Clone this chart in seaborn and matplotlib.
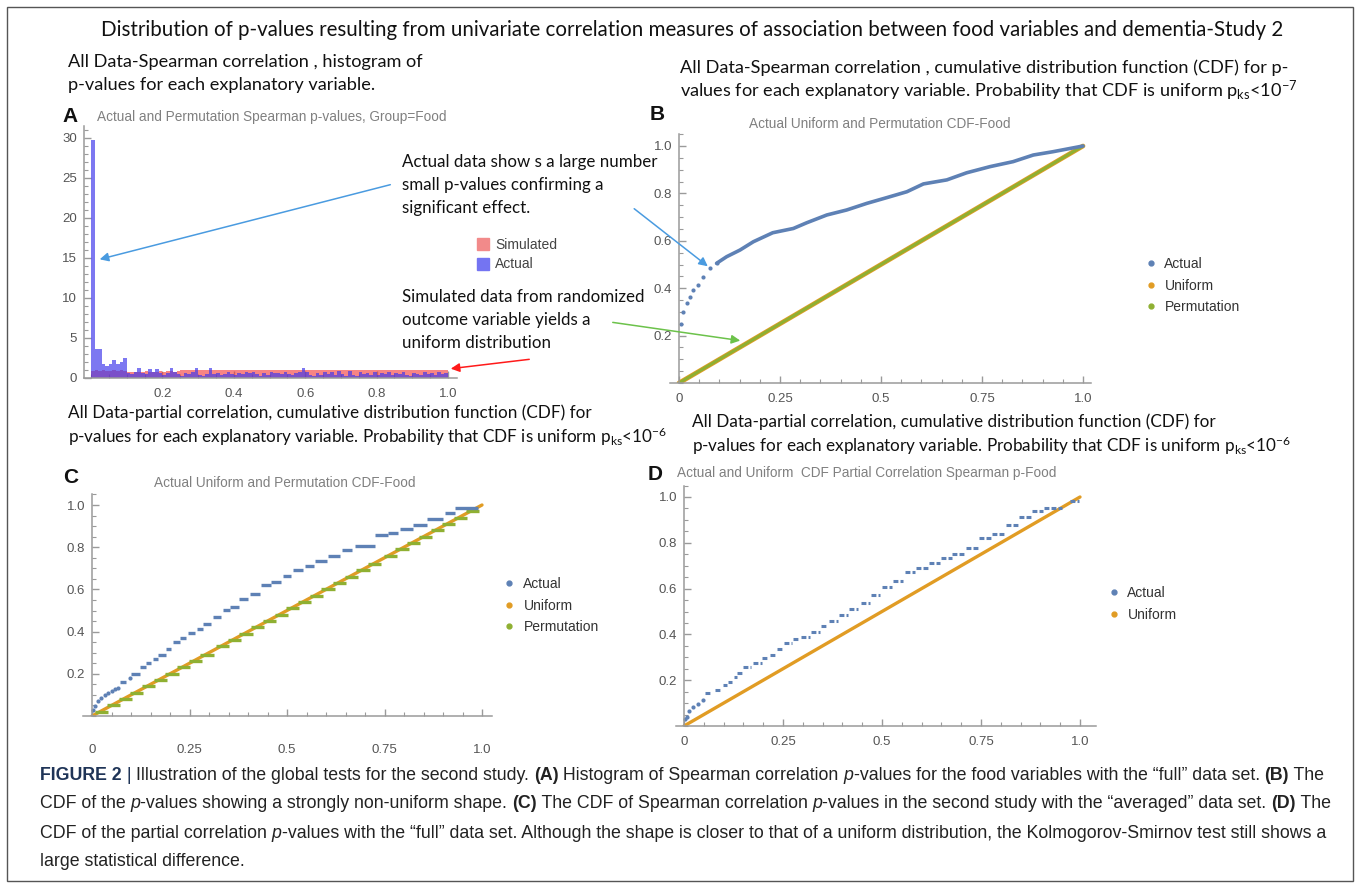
import numpy as np
import pandas as pd
import matplotlib
matplotlib.use('Agg')
import matplotlib.pyplot as plt
from matplotlib.lines import Line2D
from matplotlib.patches import FancyArrowPatch, Rectangle
from matplotlib.ticker import MultipleLocator, FixedLocator
import seaborn as sns

sns.set_style('ticks')
plt.rcParams['font.family'] = ['Liberation Sans', 'DejaVu Sans']
plt.rcParams['mathtext.fontset'] = 'custom'
plt.rcParams['mathtext.rm'] = 'Lato'
plt.rcParams['mathtext.it'] = 'Lato:italic'

# ---- data ----
# A: histogram densities, 100 bins of width 0.01
bin_edges = list(np.linspace(0, 1, 101))
actual_density = [29.7, 3.6, 3.6, 1.7, 1.5, 1.8, 2.3, 1.8, 2.0, 2.5,
                  0.6, 0.5, 0.7, 1.3, 0.6, 0.5, 1.1, 0.7, 1.1, 0.6,
                  0.4, 0.6, 1.3, 0.7, 0.5, 0.3, 0.6, 0.5, 0.7, 1.3,
                  0.4, 0.3, 0.5, 1.3, 0.5, 0.6, 0.4, 0.5, 0.7, 0.5,
                  0.4, 0.6, 0.5, 0.7, 0.6, 0.7, 0.5, 0.3, 0.6, 0.4,
                  0.7, 0.6, 0.6, 0.5, 0.7, 0.5, 0.4, 0.6, 0.7, 1.3,
                  0.8, 0.4, 0.3, 0.6, 0.4, 0.7, 0.5, 0.8, 0.4, 0.9,
                  0.5, 0.3, 0.9, 0.4, 0.3, 0.8, 0.5, 0.6, 0.4, 0.7,
                  0.4, 0.6, 0.5, 0.7, 0.4, 0.6, 0.5, 0.8, 0.4, 0.3,
                  0.6, 0.5, 0.4, 0.7, 0.5, 0.6, 0.4, 0.7, 0.5, 0.6]
simulated_density = [0.9, 1.0, 0.9, 1.0, 0.9, 0.9, 1.0, 0.9, 1.0, 0.9,
                     0.75, 0.8, 0.7, 0.8, 0.75, 0.85, 0.8, 0.8, 0.75, 0.9,
                     0.8, 0.85, 0.9, 0.8, 0.9, 0.95, 1.0, 0.95, 1.0, 1.05,
                     0.95, 1.0, 1.05, 0.95, 1.0, 0.95, 1.05, 1.0, 0.95, 1.05,
                     1.0, 0.95, 1.05, 1.0, 0.95, 1.05, 0.95, 1.0, 1.05, 0.95,
                     1.05, 1.0, 0.95, 1.05, 1.0, 0.95, 1.05, 0.95, 1.0, 1.05,
                     0.95, 1.0, 1.05, 0.95, 1.05, 1.0, 0.95, 1.05, 1.0, 0.95,
                     1.05, 0.95, 1.0, 1.05, 0.95, 1.0, 1.05, 0.95, 1.05, 1.0,
                     0.95, 1.05, 1.0, 0.95, 1.05, 0.95, 1.0, 1.05, 0.95, 1.0,
                     1.05, 0.95, 1.0, 1.05, 0.95, 1.05, 1.0, 0.95, 1.05, 1.0]

# B: CDF of actual p-values (first isolated points, then the dense part)
b_dot_x = [0.005, 0.009, 0.019, 0.027, 0.035, 0.048, 0.060, 0.077, 0.093]
b_dot_y = [0.25, 0.30, 0.336, 0.364, 0.392, 0.413, 0.448, 0.484, 0.505]
b_cdf_x = [0.093, 0.118, 0.151, 0.184, 0.232, 0.283, 0.316, 0.366, 0.415,
           0.465, 0.514, 0.564, 0.605, 0.663, 0.712, 0.770, 0.827, 0.877,
           0.926, 1.0]
b_cdf_y = [0.505, 0.533, 0.561, 0.596, 0.634, 0.652, 0.676, 0.709, 0.730,
           0.758, 0.782, 0.807, 0.840, 0.857, 0.887, 0.913, 0.934, 0.962,
           0.976, 1.0]
uniform_x = [0.0, 1.0]
uniform_y = [0.0, 1.0]
perm_x = [0.0, 1.0]
perm_y = [0.0, 1.0]

# C: actual CDF, isolated points then steps (start, end, level)
c_dot_x = [0.0013, 0.0085, 0.0154, 0.024, 0.0325, 0.041, 0.050, 0.058, 0.067, 0.097]
c_dot_y = [0.027, 0.047, 0.071, 0.087, 0.100, 0.110, 0.119, 0.127, 0.135, 0.179]
c_step_lo = [0.071, 0.101, 0.122, 0.139, 0.156, 0.169, 0.190, 0.208, 0.225, 0.246,
             0.268, 0.285, 0.310, 0.336, 0.355, 0.378, 0.404, 0.434, 0.460, 0.490,
             0.515, 0.545, 0.572, 0.606, 0.640, 0.674, 0.726, 0.760, 0.790, 0.824,
             0.860, 0.905, 0.930]
c_step_hi = [0.088, 0.122, 0.139, 0.152, 0.169, 0.190, 0.203, 0.225, 0.242, 0.263,
             0.285, 0.306, 0.332, 0.353, 0.378, 0.400, 0.430, 0.460, 0.485, 0.511,
             0.541, 0.568, 0.602, 0.636, 0.666, 0.726, 0.760, 0.785, 0.824, 0.858,
             0.900, 0.930, 0.990]
c_step_y = [0.162, 0.198, 0.230, 0.251, 0.270, 0.290, 0.316, 0.352, 0.371, 0.392,
            0.413, 0.438, 0.467, 0.503, 0.517, 0.554, 0.579, 0.619, 0.633, 0.662,
            0.694, 0.712, 0.733, 0.757, 0.789, 0.806, 0.856, 0.869, 0.884, 0.907,
            0.935, 0.960, 0.987]
c_perm_y = [0.02, 0.05, 0.08, 0.11, 0.14, 0.17, 0.20, 0.23, 0.26, 0.29, 0.33,
            0.36, 0.39, 0.42, 0.45, 0.48, 0.51, 0.54, 0.57, 0.60, 0.63, 0.66,
            0.69, 0.72, 0.76, 0.79, 0.82, 0.85, 0.88, 0.91, 0.94, 0.97]

# D: partial correlation CDF
d_dot_x = [0.003, 0.007, 0.013, 0.023, 0.036, 0.047]
d_dot_y = [0.030, 0.039, 0.066, 0.083, 0.098, 0.112]
d_step_lo = [0.053, 0.078, 0.098, 0.110, 0.125, 0.135, 0.150, 0.175, 0.198, 0.216,
             0.236, 0.252, 0.274, 0.295, 0.320, 0.345, 0.366, 0.392, 0.417, 0.446,
             0.472, 0.500, 0.529, 0.558, 0.587, 0.619, 0.648, 0.678, 0.712, 0.745,
             0.779, 0.812, 0.846, 0.880, 0.909, 0.975]
d_step_hi = [0.070, 0.095, 0.108, 0.120, 0.133, 0.146, 0.170, 0.196, 0.213, 0.234,
             0.250, 0.272, 0.293, 0.318, 0.343, 0.364, 0.390, 0.415, 0.440, 0.470,
             0.495, 0.524, 0.554, 0.583, 0.617, 0.646, 0.676, 0.710, 0.743, 0.777,
             0.810, 0.844, 0.878, 0.907, 0.954, 0.998]
d_step_y = [0.142, 0.159, 0.177, 0.193, 0.212, 0.230, 0.256, 0.276, 0.297, 0.312,
            0.336, 0.362, 0.378, 0.387, 0.410, 0.436, 0.457, 0.486, 0.509, 0.536,
            0.572, 0.606, 0.632, 0.672, 0.688, 0.711, 0.733, 0.752, 0.776, 0.823,
            0.839, 0.879, 0.912, 0.940, 0.950, 0.984]

cdf_ticks = [0, 0.25, 0.5, 0.75, 1.0]
cdf_tick_labels = ['0', '0.25', '0.5', '0.75', '1.0']
prob_ticks = [0.2, 0.4, 0.6, 0.8, 1.0]
prob_tick_labels = ['0.2', '0.4', '0.6', '0.8', '1.0']
hist_xticks = [0.2, 0.4, 0.6, 0.8, 1.0]
hist_xtick_labels = ['0.2', '0.4', '0.6', '0.8', '1.0']
hist_yticks = [0, 5, 10, 15, 20, 25, 30]

BLUE = '#5E81B5'
ORANGE = '#E19C24'
GREEN = '#8FB032'
AX_GRAY = '#9a9a9a'
TXT_GRAY = '#808080'

W, H = 1360, 885
fig = plt.figure(figsize=(W / 100, H / 100), dpi=100)


def fx(px):
    return px / W


def fy(py):
    return 1 - py / H


def make_ax(px0, px1, py0, py_ref, yref, xlim, ylim):
    sx = px1 - px0
    sy = (py0 - py_ref) / yref
    left = px0 + xlim[0] * sx
    right = px0 + xlim[1] * sx
    bottom = py0 - ylim[0] * sy
    top = py0 - ylim[1] * sy
    ax = fig.add_axes([left / W, 1 - bottom / H, (right - left) / W, (bottom - top) / H])
    ax.set_xlim(*xlim)
    ax.set_ylim(*ylim)
    return ax


def mma_style(ax, origin=True):
    for s in ['top', 'right']:
        ax.spines[s].set_visible(False)
    for s in ['left', 'bottom']:
        ax.spines[s].set_color(AX_GRAY)
        ax.spines[s].set_linewidth(1.1)
    if origin:
        ax.spines['left'].set_position(('data', 0))
    ax.tick_params(which='both', direction='in', color=AX_GRAY, labelcolor='#555555',
                   labelsize=9.5)
    ax.tick_params(which='major', length=5, width=1)
    ax.tick_params(which='minor', length=3, width=0.8)
    ax.tick_params(axis='x', pad=7)
    ax.tick_params(axis='y', pad=5)
    ax.set_xlabel('')
    ax.set_ylabel('')


def cdf_axis(ax, xpad=7):
    ax.xaxis.set_major_locator(FixedLocator(cdf_ticks))
    ax.set_xticklabels(cdf_tick_labels)
    ax.xaxis.set_minor_locator(MultipleLocator(0.05))
    ax.yaxis.set_major_locator(FixedLocator(prob_ticks))
    ax.set_yticklabels(prob_tick_labels)
    ax.yaxis.set_minor_locator(MultipleLocator(0.05))
    ax.tick_params(axis='x', pad=xpad)


def cdf_legend(ax, labels, colors, x, y):
    handles = [Line2D([], [], ls='', marker='o', markersize=3.5, color=c) for c in colors]
    ax.legend(handles, labels, loc='upper left', bbox_to_anchor=(fx(x), fy(y)),
              bbox_transform=fig.transFigure, frameon=False, fontsize=10,
              handletextpad=0.6, labelspacing=0.55, handlelength=0.8, borderpad=0,
              labelcolor='#333333')


# ---- panel A ----
axA = make_ax(91, 448, 378, 138, 30, (-0.02, 1.025), (0, 31.5))
hist_df = pd.DataFrame({'p': np.array(bin_edges[:-1]) + 0.005,
                        'actual': actual_density,
                        'simulated': simulated_density})
sns.histplot(data=hist_df, x='p', weights='simulated', bins=bin_edges, ax=axA,
             color=(0.95, 0.2, 0.2), alpha=0.6, linewidth=0)
sns.histplot(data=hist_df, x='p', weights='actual', bins=bin_edges, ax=axA,
             color=(0.25, 0.22, 0.92), alpha=0.68, linewidth=0)
mma_style(axA, origin=False)
axA.set_xlim(-0.02, 1.025)
axA.set_ylim(0, 31.5)
axA.xaxis.set_major_locator(FixedLocator(hist_xticks))
axA.set_xticklabels(hist_xtick_labels)
axA.xaxis.set_minor_locator(MultipleLocator(0.05))
axA.yaxis.set_major_locator(FixedLocator(hist_yticks))
axA.yaxis.set_minor_locator(MultipleLocator(1))
hA = [Line2D([], [], ls='', marker='s', markersize=8, color='#f28a8a'),
      Line2D([], [], ls='', marker='s', markersize=8, color='#7474f2')]
axA.legend(hA, ['Simulated', 'Actual'], loc='upper left', bbox_to_anchor=(fx(470), fy(231)),
           bbox_transform=fig.transFigure, frameon=False, fontsize=10,
           handletextpad=0.5, labelspacing=0.4, handlelength=0.8, borderpad=0,
           labelcolor='#444444')

# ---- panel B ----
axB = make_ax(679, 1083, 383, 146, 1.0, (-0.022, 1.02), (0, 1.05))
sns.lineplot(x=uniform_x, y=uniform_y, ax=axB, color=ORANGE, linewidth=3.4)
sns.lineplot(x=perm_x, y=perm_y, ax=axB, color=GREEN, linewidth=2.2)
sns.lineplot(x=b_cdf_x, y=b_cdf_y, ax=axB, color=BLUE, linewidth=2.6)
sns.scatterplot(x=b_dot_x, y=b_dot_y, ax=axB, color=BLUE, s=9, linewidth=0)
mma_style(axB)
cdf_axis(axB)
cdf_legend(axB, ['Actual', 'Uniform', 'Permutation'], [BLUE, ORANGE, GREEN], 1138, 250)

# ---- panel C ----
axC = make_ax(92, 482, 716, 505, 1.0, (-0.023, 1.026), (0, 1.05))
sns.lineplot(x=uniform_x, y=uniform_y, ax=axC, color=ORANGE, linewidth=2.4)
axC.hlines(c_perm_y, np.array(c_perm_y) - 0.012, np.array(c_perm_y) + 0.022,
           color=GREEN, linewidth=2.4)
axC.hlines(c_step_y, c_step_lo, c_step_hi, color=BLUE, linewidth=2.4)
sns.scatterplot(x=c_dot_x, y=c_dot_y, ax=axC, color=BLUE, s=9, linewidth=0)
mma_style(axC)
cdf_axis(axC, xpad=20)
cdf_legend(axC, ['Actual', 'Uniform', 'Permutation'], [BLUE, ORANGE, GREEN], 497, 570)

# ---- panel D ----
axD = make_ax(684, 1080, 726, 497, 1.0, (-0.02, 1.04), (0, 1.05))
sns.lineplot(x=uniform_x, y=uniform_y, ax=axD, color=ORANGE, linewidth=2.4)
axD.hlines(d_step_y, d_step_lo, d_step_hi, color=BLUE, linewidth=2.2,
           linestyles=(0, (1.6, 0.7)))
sns.scatterplot(x=d_dot_x, y=d_dot_y, ax=axD, color=BLUE, s=9, linewidth=0)
mma_style(axD)
cdf_axis(axD)
cdf_legend(axD, ['Actual', 'Uniform'], [BLUE, ORANGE], 1101, 579)

# ---- texts ----
CAL = ['Lato', 'DejaVu Sans']
fig.text(fx(692), fy(30), 'Distribution of p-values resulting from univariate correlation measures '
         'of association between food variables and dementia-Study 2',
         ha='center', va='center', fontsize=14.8, family=CAL, color='#111111')
hdr = dict(fontsize=13.1, family=CAL, color='#111111', va='center', ha='left')
hdr2 = dict(hdr, fontsize=12.3)
fig.text(fx(68), fy(62), 'All Data-Spearman correlation , histogram of', **hdr)
fig.text(fx(68), fy(85), 'p-values for each explanatory variable.', **hdr)
fig.text(fx(680), fy(68), 'All Data-Spearman correlation , cumulative distribution function (CDF) for p-', **hdr)
fig.text(fx(680), fy(91), 'values for each explanatory variable. Probability that CDF is uniform '
         r'p$_{\mathrm{ks}}$<10$^{-7}$', **hdr)
fig.text(fx(68), fy(413), 'All Data-partial correlation, cumulative distribution function (CDF) for', **hdr2)
fig.text(fx(68), fy(437), 'p-values for each explanatory variable. Probability that CDF is uniform '
         r'p$_{\mathrm{ks}}$<10$^{-6}$', **hdr2)
fig.text(fx(692), fy(422), 'All Data-partial correlation, cumulative distribution function (CDF) for', **hdr2)
fig.text(fx(692), fy(446), 'p-values for each explanatory variable. Probability that CDF is uniform '
         r'p$_{\mathrm{ks}}$<10$^{-6}$', **hdr2)

ann = dict(fontsize=12.2, family=CAL, color='#111111', va='center', ha='left')
fig.text(fx(402), fy(162), 'Actual data show s a large number', **ann)
fig.text(fx(402), fy(185), 'small p-values confirming a', **ann)
fig.text(fx(402), fy(208), 'significant effect.', **ann)
fig.text(fx(402), fy(297), 'Simulated data from randomized', **ann)
fig.text(fx(402), fy(320), 'outcome variable yields a', **ann)
fig.text(fx(402), fy(343), 'uniform distribution', **ann)

lett = dict(fontsize=15, weight='bold', color='#111111', va='center', ha='left')
fig.text(fx(62), fy(116), 'A', **lett)
fig.text(fx(650), fy(115), 'B', **lett)
fig.text(fx(63), fy(477), 'C', **lett)
fig.text(fx(648), fy(474), 'D', **lett)

ttl = dict(fontsize=9.8, color=TXT_GRAY, va='center')
fig.text(fx(97), fy(117), 'Actual and Permutation Spearman p-values, Group=Food', ha='left', **ttl)
fig.text(fx(880), fy(124), 'Actual Uniform and Permutation CDF-Food', ha='center', **ttl)
fig.text(fx(285), fy(483), 'Actual Uniform and Permutation CDF-Food', ha='center', **ttl)
fig.text(fx(677), fy(473), 'Actual and Uniform  CDF Partial Correlation Spearman p-Food', ha='left', **ttl)

# arrows
for (x0, y0, x1, y1, col) in [(393, 184, 97, 260, '#4a9be0'),
                              (632, 207, 710, 268, '#4a9be0'),
                              (610, 322, 743, 341, '#6cc24a'),
                              (532, 359, 448, 369, '#ff1a1a')]:
    fig.add_artist(FancyArrowPatch((fx(x0), fy(y0)), (fx(x1), fy(y1)),
                                   transform=fig.transFigure, arrowstyle='-|>',
                                   mutation_scale=13, color=col, linewidth=1.1))

# caption
fig.canvas.draw()
rend = fig.canvas.get_renderer()
CAP = ['Liberation Sans Narrow', 'Liberation Sans']


def put_runs(y, runs, x=40):
    for s, w, st, col in runs:
        t = fig.text(fx(x), fy(y), s, fontsize=12.8, family=CAP, weight=w, style=st,
                     color=col, va='center', ha='left')
        x += t.get_window_extent(rend).width


N, B_, I_ = 'normal', 'bold', 'italic'
K = '#222222'
put_runs(775, [('FIGURE 2', B_, N, '#1f3457'), (' | ', N, N, '#1f3457'),
               ('Illustration of the global tests for the second study. ', N, N, K),
               ('(A)', B_, N, K), (' Histogram of Spearman correlation ', N, N, K),
               ('p', N, I_, K), ('-values for the food variables with the \u201cfull\u201d data set. ', N, N, K),
               ('(B)', B_, N, K), (' The', N, N, K)])
put_runs(804, [('CDF of the ', N, N, K), ('p', N, I_, K),
               ('-values showing a strongly non-uniform shape. ', N, N, K),
               ('(C)', B_, N, K), (' The CDF of Spearman correlation ', N, N, K), ('p', N, I_, K),
               ('-values in the second study with the \u201caveraged\u201d data set. ', N, N, K),
               ('(D)', B_, N, K), (' The', N, N, K)])
put_runs(833, [('CDF of the partial correlation ', N, N, K), ('p', N, I_, K),
               ('-values with the \u201cfull\u201d data set. Although the shape is closer to that of a '
                'uniform distribution, the Kolmogorov-Smirnov test still shows a', N, N, K)])
put_runs(862, [('large statistical difference.', N, N, K)])

fig.add_artist(Rectangle((fx(7), fy(881)), (1353 - 7) / W, (881 - 7) / H,
                         transform=fig.transFigure, fill=False, edgecolor='#555555',
                         linewidth=1))

fig.savefig('out.png', dpi=100)
